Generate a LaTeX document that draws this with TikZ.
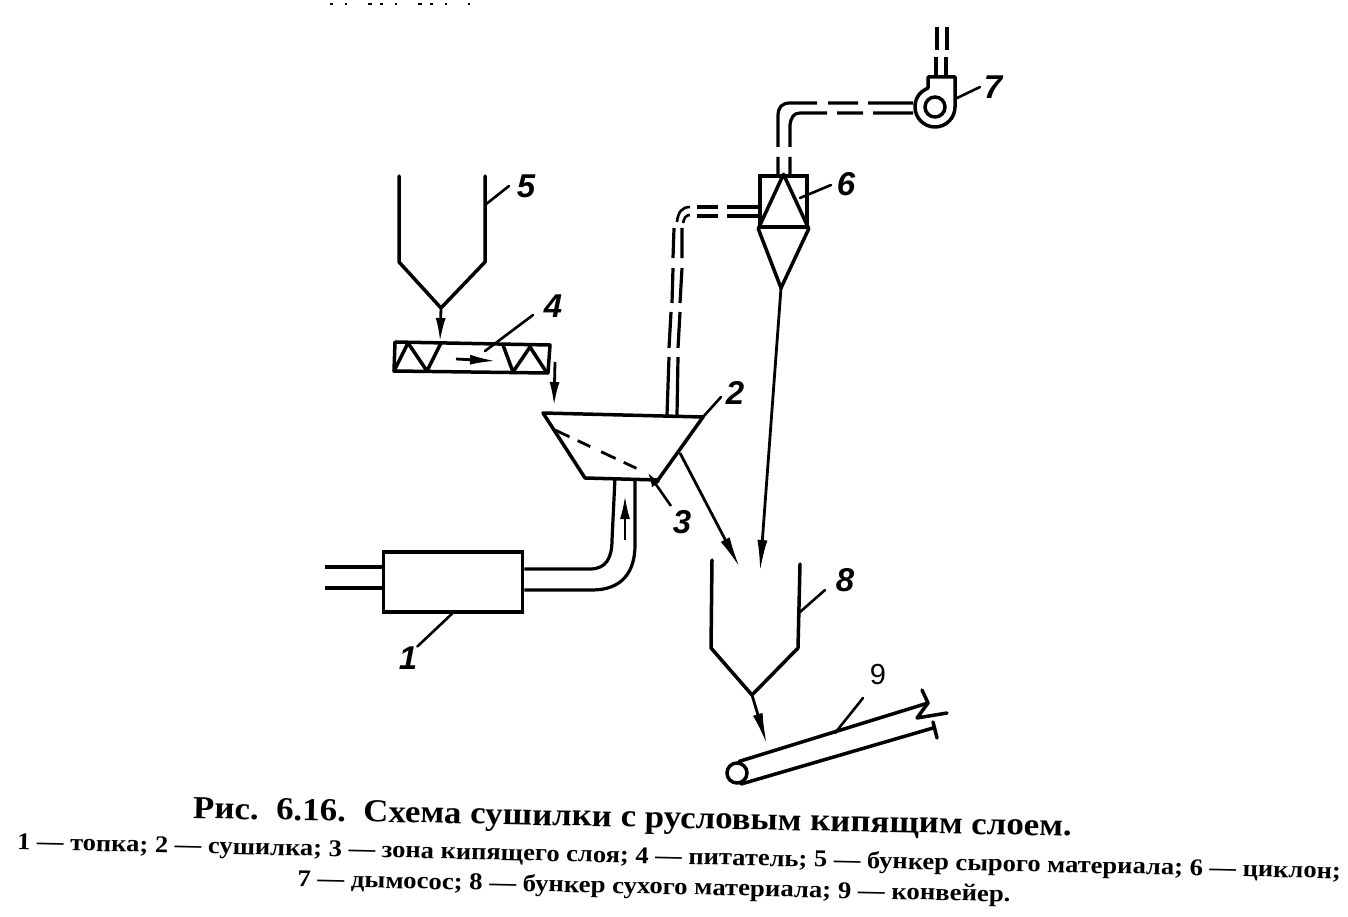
\documentclass[tikz,border=0pt]{standalone}
\usepackage{fontspec}
\setmainfont{Liberation Serif}
\newfontfamily\numfont{Liberation Sans}
\usetikzlibrary{arrows.meta}
\tikzset{
  main/.style={line width=3.5pt,line cap=round,line join=round},
  thin line/.style={line width=3.2pt,line cap=butt,line join=round},
  leader/.style={line width=2.6pt,line cap=round},
  flow/.style={line width=2.8pt,-{Latex[length=32pt,width=10pt]}},
  flow small/.style={line width=2.8pt,-{Latex[length=24pt,width=10pt]}},
  num/.style={font=\numfont\itshape\bfseries\fontsize{33}{33}\selectfont,inner sep=0pt},
  numup/.style={font=\numfont\fontsize{29}{29}\selectfont,inner sep=0pt},
  title text/.style={font=\bfseries\fontsize{32}{32}\selectfont,inner sep=0pt,rotate=-1.17},
  legend text/.style={font=\bfseries\fontsize{24}{24}\selectfont,inner sep=0pt,rotate=-1.26}
}
\begin{document}
\begin{tikzpicture}[x=1pt,y=-1pt]
\useasboundingbox (0,0) rectangle (1348,917);
% scanned remains of the line above
\draw[line width=2pt,dash pattern=on 3pt off 12pt on 2pt off 21pt on 4pt off 8pt] (330,4) -- (470,4);

% --- hopper 5
\coordinate (h5l) at (399,176); \coordinate (h5r) at (485,176);
\coordinate (h5o) at (441,308);
\draw[main] (h5l) -- (399,262) -- (h5o) -- (485,262) -- (h5r);
% --- feeder 4
\coordinate (f4nw) at (395,342); \coordinate (f4ne) at (550,345);
\coordinate (f4se) at (548,373); \coordinate (f4sw) at (394,371);
\draw[main] (f4nw) -- (f4ne) -- (f4se) -- (f4sw) -- cycle;
\draw[main] (f4sw) -- (408,343) -- (427,371) -- (441,343);
\draw[main] (503,345) -- (513,372) -- (530,347) -- (547,373);
\coordinate (f4in) at (440,342);
\draw[flow small] (h5o) -- (f4in);
\coordinate (f4a) at (456,359); \coordinate (f4b) at (496,361);
\draw[line width=2.8pt,-{Latex[length=26pt,width=10pt]}] (f4a) -- (f4b);
% --- dryer 2
\coordinate (d1) at (543,413); \coordinate (d2) at (703,417);
\coordinate (d3) at (658,480); \coordinate (d4) at (585,478);
\draw[main] (d1) -- (d2) -- (d3) -- (d4) -- cycle;
\coordinate (f4out) at (555,362); \coordinate (d2in) at (554,406);
\draw[flow small] (f4out) -- (d2in);
\draw[line width=2.8pt,dash pattern=on 16pt off 9pt on 14pt off 12pt] (555,430) -- (640,470);
% --- furnace 1
\node[draw,line width=3.5pt,minimum width=139pt,minimum height=60pt,inner sep=0pt] (furn) at (453,582) {};
\draw[thin line] (325,567) -- (furn.west |- 0,567);
\draw[thin line] (325,588) -- (furn.west |- 0,588);
\coordinate (p1) at (615,478); \coordinate (p2) at (635,478);
\draw[thin line] (furn.east |- 0,569) -- (590,569) .. controls (606,569) and (612,558) .. (612,540) -- (p1);
\draw[thin line] (furn.east |- 0,590) -- (592,590) .. controls (622,590) and (635,572) .. (635,545) -- (p2);
\coordinate (pa) at (625,540); \coordinate (pb) at (625,495);
\draw[flow small] (pa) -- (pb);
% --- duct 2 to 6
\coordinate (c1) at (760,207); \coordinate (c2) at (760,216);
\coordinate (d2a) at (667,415); \coordinate (d2b) at (677,415);
\draw[thin line] (c1) -- (727,207) (718,207) -- (697,207);
\draw[thin line] (c2) -- (727,216) (718,216) -- (697,216);
\draw[line width=2.6pt] (690,207) .. controls (682,207) and (678,212) .. (677,222);
\draw[line width=2.6pt] (690,215) .. controls (686,215) and (684,218) .. (683,223);
\draw[thin line] (674,228) -- (673,258) (673,268) -- (672,303) (671,312) -- (669,348) (669,357) -- (d2a);
\draw[thin line] (682,228) -- (682,258) (682,268) -- (680,303) (680,312) -- (678,348) (678,357) -- (d2b);
% --- cyclone 6
\node[draw,line width=3.5pt,minimum width=47pt,minimum height=51pt,inner sep=0pt] (cyc) at (783.5,201.5) {};
\coordinate (capex) at (781,288);
\draw[main] (cyc.north) -- (cyc.south west) (cyc.north) -- (cyc.south east);
\draw[main] (cyc.south west) -- (capex) -- (cyc.south east);
% --- duct 6 to 7
\coordinate (fa) at (913,103); \coordinate (fb) at (913,113);
\draw[thin line] (fa) -- (868,103) (858,103) -- (828,103) (817,103) -- (790,103) .. controls (782,103) and (778,107) .. (778,116) -- (778,147) (778,157) -- (778,175);
\draw[thin line] (fb) -- (873,113) (863,113) -- (837,113) (827,113) -- (800,113) .. controls (794,113) and (791,117) .. (790,125) -- (790,147) (790,157) -- (790,175);
% --- fan 7
\node[draw,circle,line width=3.5pt,minimum size=20pt,inner sep=0pt] (fan) at (935,107) {};
\draw[main] (928,88) -- (928,77) -- (955,77) -- (955,107) .. controls (955,118) and (946,127) .. (935,127) .. controls (924,127) and (915,118) .. (915,107) .. controls (915,97) and (921,91) .. (928,88);
\draw[thin line] (936,77) -- (936,57) (937,50) -- (937,27);
\draw[thin line] (946,77) -- (946,57) (947,50) -- (947,27);
% --- hopper 8
\coordinate (h8l) at (712,560); \coordinate (h8r) at (800,564);
\coordinate (h8o) at (752,695);
\draw[main] (h8l) -- (711,648) -- (h8o) -- (798,648) -- (h8r);
% --- flows into and out of hopper 8
\coordinate (dout) at (680,453); \coordinate (to8a) at (740,568); \coordinate (to8b) at (760,572);
\draw[flow] (dout) -- (to8a);
\draw[flow] (capex) -- (to8b);
\coordinate (convin) at (767,745);
\draw[flow] (h8o) -- (convin);
% --- conveyor 9
\node[draw,circle,line width=3.5pt,minimum size=20pt,inner sep=0pt] (roll) at (737,773) {};
\coordinate (bt) at (928,703); \coordinate (bb) at (933,728);
\draw[main] (roll.80) -- (bt);
\draw[main] (roll.-70) -- (bb);
\draw[main] (922,690) -- (928,703) -- (917,718) -- (947,713);
\draw[main] (933,722) -- (937,738);
% --- leaders and numbers
\node[num] (n1) at (408,658) {1};
\draw[leader] (furn.south -| 452,0) -- (n1.north east);
\node[num] (n2) at (735,393) {2};
\draw[leader] (d2) -- (721,397);
\node[num] (n3) at (682,522) {3};
\coordinate (tip3) at (648,473);
\draw[line width=2.6pt,-{Latex[length=14pt,width=10pt]}] (671,506) -- (tip3);
\node[num] (n4) at (553,306) {4};
\draw[leader] (485,351) -- (533,315);
\node[num] (n5) at (526,186) {5};
\draw[leader] (485,205) -- (509,186);
\node[num] (n6) at (846,184) {6};
\draw[leader] (800,198) -- (831,185);
\node[num] (n7) at (993,87) {7};
\draw[leader] (955,99) -- (980,87);
\node[num] (n8) at (845,580) {8};
\draw[leader] (800,612) -- (825,590);
\node[numup] (n9) at (878,675) {9};
\coordinate (conv9) at (835,733);
\draw[leader] (conv9) -- (863,698);
% --- caption
\node[title text] (cap) at (632.5,820) {\scalebox{1.09}[1]{Рис.\ \ 6.16.\ \ Схема сушилки с русловым кипящим слоем.}};
\node[legend text] (leg1) at (679,858) {\scalebox{1.105}[1]{1 — топка; 2 — сушилка; 3 — зона кипящего слоя; 4 — питатель; 5 — бункер сырого материала; 6 — циклон;}};
\node[legend text] (leg2) at (654,888) {\scalebox{1.115}[1]{7 — дымосос; 8 — бункер сухого материала; 9 — конвейер.}};
\end{tikzpicture}
\end{document}
